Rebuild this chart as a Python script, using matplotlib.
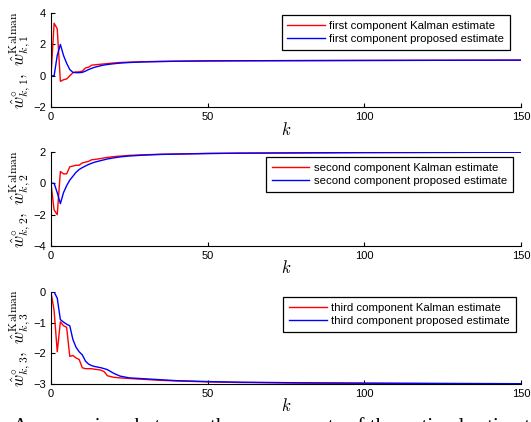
import numpy as np
import matplotlib

matplotlib.use('Agg')

import matplotlib.pyplot as plt

plt.rcParams['mathtext.fontset'] = 'cm'
plt.rcParams['font.family'] = 'Liberation Sans'

k = [0, 1, 2, 3, 4, 5, 6, 7, 8, 9, 10, 11, 12, 13, 14, 15, 16, 17, 18, 20,
     22, 25, 30, 35, 40, 50, 60, 80, 100, 150]

kalman_1 = [0, 3.35, 3.0, -0.35, -0.25, -0.2, 0.0, 0.2, 0.25, 0.25, 0.3, 0.5,
            0.55, 0.68, 0.7, 0.72, 0.74, 0.76, 0.78, 0.82, 0.85, 0.87, 0.9,
            0.92, 0.93, 0.95, 0.96, 0.97, 0.98, 1.0]
proposed_1 = [0, 0, 1.3, 2.0, 1.3, 0.8, 0.4, 0.22, 0.2, 0.2, 0.22, 0.3, 0.4,
              0.48, 0.55, 0.6, 0.65, 0.69, 0.72, 0.77, 0.81, 0.85, 0.89,
              0.91, 0.93, 0.95, 0.96, 0.97, 0.98, 1.0]

kalman_2 = [0, -1.7, -2.0, 0.75, 0.6, 0.6, 1.05, 1.1, 1.15, 1.15, 1.3, 1.35,
            1.4, 1.5, 1.52, 1.55, 1.58, 1.62, 1.65, 1.7, 1.73, 1.78, 1.82,
            1.85, 1.87, 1.9, 1.92, 1.94, 1.96, 1.98]
proposed_2 = [0, 0, -0.6, -1.3, -0.6, -0.15, 0.2, 0.45, 0.7, 0.88, 1.0, 1.1,
              1.2, 1.28, 1.35, 1.4, 1.45, 1.5, 1.55, 1.62, 1.68, 1.74, 1.8,
              1.84, 1.86, 1.9, 1.92, 1.94, 1.96, 1.98]

kalman_3 = [0, -0.6, -1.95, -0.97, -1.1, -1.15, -2.1, -2.07, -2.15, -2.2,
            -2.47, -2.5, -2.5, -2.5, -2.52, -2.53, -2.55, -2.6, -2.73, -2.78,
            -2.8, -2.82, -2.85, -2.88, -2.9, -2.93, -2.95, -2.97, -2.98, -3.0]
proposed_3 = [0, 0, -0.2, -0.9, -0.98, -1.05, -1.1, -1.55, -1.8, -1.95,
              -2.05, -2.25, -2.35, -2.4, -2.43, -2.45, -2.47, -2.5, -2.53,
              -2.65, -2.74, -2.8, -2.83, -2.86, -2.89, -2.92, -2.94, -2.96,
              -2.97, -2.99]

ordinals = ['first', 'second', 'third']
ylims = [(-2, 4), (-4, 2), (-3, 0)]
yticks = [[-2, 0, 2, 4], [-4, -2, 0, 2], [-3, -2, -1, 0]]
kalman = [kalman_1, kalman_2, kalman_3]
proposed = [proposed_1, proposed_2, proposed_3]

boxes = [(0.096, 0.746, 0.885, 0.223),
         (0.096, 0.417, 0.885, 0.223),
         (0.096, 0.090, 0.885, 0.218)]
legend_anchor = [(0.977, 0.979), (0.983, 0.947), (0.989, 0.946)]

fig = plt.figure(figsize=(5.31, 4.22), dpi=100)

for i in range(3):
    ax = fig.add_axes(boxes[i])
    ax.plot(k, kalman[i], color='r', lw=1.0,
            label='{} component Kalman estimate'.format(ordinals[i]))
    ax.plot(k, proposed[i], color='b', lw=1.0,
            label='{} component proposed estimate'.format(ordinals[i]))
    ax.set_xlim(0, 150)
    ax.set_ylim(*ylims[i])
    ax.set_xticks([0, 50, 100, 150])
    ax.set_yticks(yticks[i])
    ax.spines['top'].set_visible(False)
    ax.spines['right'].set_visible(False)
    ax.tick_params(direction='in', labelsize=8, length=3)
    ax.set_xlabel('$k$', fontsize=12, labelpad=-1)
    n = i + 1
    ax.set_ylabel(r'$\hat{w}^{\circ}_{k,%d},\ \hat{w}^{\mathrm{Kalman}}_{k,%d}$' % (n, n),
                  fontsize=12, labelpad=1)
    leg = ax.legend(loc='upper right', bbox_to_anchor=legend_anchor[i],
                    fontsize=8.2, handlelength=3.3, borderpad=0.5,
                    labelspacing=0.3, handletextpad=0.4, fancybox=False,
                    framealpha=1, borderaxespad=0)
    leg.get_frame().set_edgecolor('k')
    leg.get_frame().set_linewidth(0.9)

# caption of the source page, cut off by the bottom edge
fig.text(0.025, -0.024,
         'A comparison between the components of the optimal estimation',
         fontsize=15, family='Liberation Serif', va='baseline', ha='left')

fig.savefig('out.png', dpi=100)
